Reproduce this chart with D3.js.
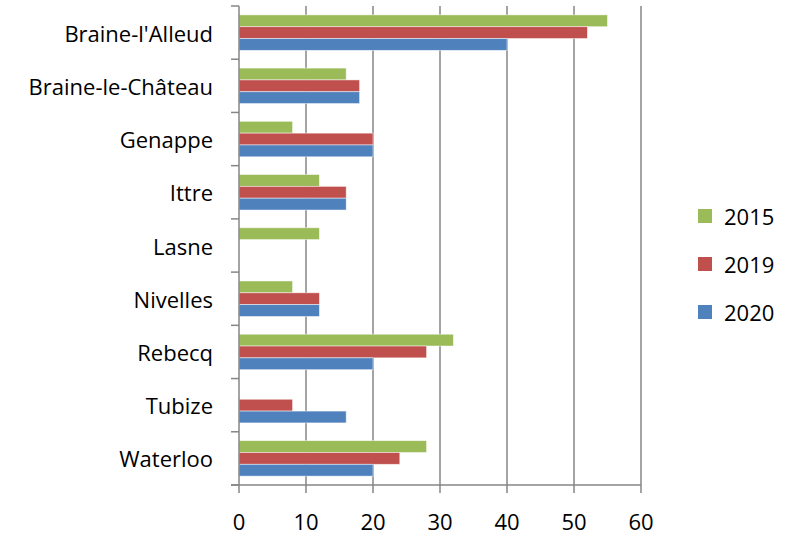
<!DOCTYPE html>
<html>
<head>
<meta charset="utf-8">
<script src="https://cdn.jsdelivr.net/npm/d3@7"></script>
<style>
	body { margin: 0; background: #fff; }
	text { font-family: "Open Sans", "Noto Sans", sans-serif; fill: #000; }
</style>
</head>
<body>
<svg id="chart" width="792" height="536"></svg>
<script>
const communes = ["Braine-l'Alleud", 'Braine-le-Château', 'Genappe', 'Ittre', 'Lasne', 'Nivelles', 'Rebecq', 'Tubize', 'Waterloo'];
const years = ['2015', '2019', '2020'];
const v2015 = [55, 16, 8, 12, 12, 8, 32, 0, 28];
const v2019 = [52, 18, 20, 16, 0, 12, 28, 8, 24];
const v2020 = [40, 18, 20, 16, 0, 12, 20, 16, 20];
const xTicks = [0, 10, 20, 30, 40, 50, 60];
const colors = ['#9BBB59', '#C0504D', '#4F81BD'];

const series = [v2015, v2019, v2020];
const margins = {top: 6, right: 151, bottom: 51, left: 239};
const W = 792, H = 536;
const innerW = W - margins.left - margins.right;
const innerH = H - margins.top - margins.bottom;
const fontSize = '22px';

const svg = d3.select('#chart');
const g = svg.append('g').attr('transform', `translate(${margins.left},${margins.top})`);

const x = d3.scaleLinear().domain([0, 60]).range([0, innerW]);
const y = d3.scaleBand().domain(communes).range([0, innerH]);
// gap width 150% like the office default: 3 bars + 1.5 bar of gap per band
const barH = y.bandwidth() / 4.5;
const ySub = d3.scaleBand().domain(years).range([0, barH * 3]);

// vertical gridlines
g.append('g').selectAll('line').data(xTicks.slice(1)).join('line')
	.attr('x1', d => x(d)).attr('x2', d => x(d))
	.attr('y1', 0).attr('y2', innerH)
	.attr('stroke', '#868686').attr('stroke-width', 1.5);

// bars
const data = [];
communes.forEach((c, i) => {
	years.forEach((yr, j) => {
		data.push({commune: c, year: yr, value: series[j][i], color: colors[j]});
	});
});

g.append('g').selectAll('rect').data(data.filter(d => d.value > 0)).join('rect')
	.attr('x', x(0))
	.attr('y', d => y(d.commune) + barH * 0.75 + ySub(d.year))
	.attr('width', d => x(d.value) - x(0))
	.attr('height', barH)
	.attr('fill', d => d.color)
	.attr('stroke', 'rgba(255,255,255,0.6)')
	.attr('stroke-width', 0.8);

// y axis line + category ticks
const axisCol = '#868686';
g.append('line').attr('x1', 0).attr('x2', 0).attr('y1', 0).attr('y2', innerH)
	.attr('stroke', axisCol).attr('stroke-width', 1.5);
const bounds = communes.map(c => y(c)).concat([innerH]);
g.append('g').selectAll('line').data(bounds).join('line')
	.attr('x1', -8).attr('x2', 0)
	.attr('y1', d => d).attr('y2', d => d)
	.attr('stroke', axisCol).attr('stroke-width', 1.5);

// category labels
g.append('g').selectAll('text').data(communes).join('text')
	.attr('x', -26)
	.attr('y', d => y(d) + y.bandwidth() / 2)
	.attr('text-anchor', 'end')
	.attr('dominant-baseline', 'central')
	.style('font-size', fontSize)
	.text(d => d);

// x axis line + ticks
g.append('line').attr('x1', -8).attr('x2', innerW).attr('y1', innerH).attr('y2', innerH)
	.attr('stroke', axisCol).attr('stroke-width', 1.5);
g.append('g').selectAll('line').data(xTicks).join('line')
	.attr('x1', d => x(d)).attr('x2', d => x(d))
	.attr('y1', innerH).attr('y2', innerH + 8)
	.attr('stroke', axisCol).attr('stroke-width', 1.5);
g.append('g').selectAll('text').data(xTicks).join('text')
	.attr('x', d => x(d))
	.attr('y', innerH + 36)
	.attr('text-anchor', 'middle')
	.attr('dominant-baseline', 'central')
	.style('font-size', fontSize)
	.text(d => d);

// legend
const legend = svg.append('g').attr('transform', 'translate(698,209)');
const items = legend.selectAll('g').data(years).join('g')
	.attr('transform', (d, i) => `translate(0,${i * 48})`);
items.append('rect').attr('width', 14).attr('height', 14)
	.attr('fill', (d, i) => colors[i]);
items.append('text').attr('x', 26).attr('y', 7)
	.attr('dominant-baseline', 'central')
	.style('font-size', fontSize)
	.text(d => d);
</script>
</body>
</html>
